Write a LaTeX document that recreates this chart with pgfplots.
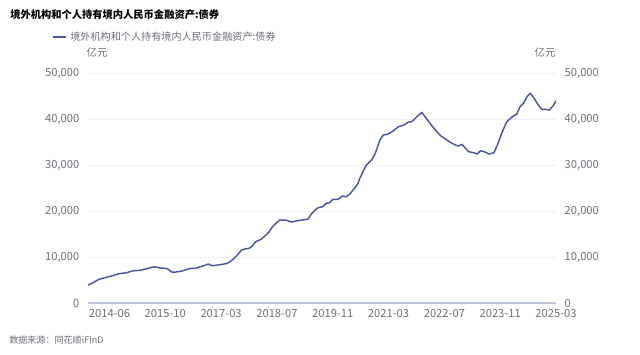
\documentclass[border=0pt]{standalone}
\usepackage{fontspec}
\setmainfont{Noto Sans CJK SC}
\usepackage{pgfplots}
\pgfplotsset{compat=1.18}
\definecolor{linec}{RGB}{74,86,158}
\definecolor{txt}{RGB}{110,112,121}
\definecolor{gridc}{RGB}{236,238,245}
\definecolor{axisc}{RGB}{190,196,222}
\pgfplotsset{
  base/.style={
    at={(66pt,38pt)}, anchor=south west, scale only axis,
    width=351pt, height=172.5pt,
    xmin=0, xmax=135, ymin=0, ymax=50000,
    ytick={0,10000,20000,30000,40000,50000},
    scaled y ticks=false,
    major tick length=0pt,
    tick label style={text=txt, font=\fontsize{8.4}{10}\selectfont},
    /pgf/number format/.cd, 1000 sep={,}, assume math mode=true,
  }
}
\begin{document}
\begin{tikzpicture}[x=0.75pt,y=0.75pt]
\path[fill=white] (0,0) rectangle (640,354);
\node[anchor=west,inner sep=0pt,font=\fontsize{7.7}{10}\selectfont\bfseries] at (10,339) {境外机构和个人持有境内人民币金融资产:债券};
\draw[linec, line width=1.1pt] (53,317) -- (66,317);
\node[anchor=west, inner sep=0pt, text=txt, font=\fontsize{7.6}{10}\selectfont] at (70,317) {境外机构和个人持有境内人民币金融资产:债券};
\node[text=txt, inner sep=0pt, font=\fontsize{7.8}{10}\selectfont] at (97,301) {亿元};
\node[text=txt, inner sep=0pt, font=\fontsize{7.8}{10}\selectfont] at (545,301) {亿元};
\node[anchor=west, inner sep=0pt, text=txt, font=\fontsize{6.8}{10}\selectfont] at (9,14) {数据来源：同花顺iFinD};

\begin{axis}[base,
  axis x line=bottom, axis y line=left,
  x axis line style={axisc, line width=1.4pt, -},
  y axis line style={draw=none},
  ymajorgrids, grid style={gridc, line width=0.6pt},
  xtick={6.2,22.3,38.4,54.5,70.6,86.7,102.8,118.9,135},
  xticklabels={2014-06,2015-10,2017-03,2018-07,2019-11,2021-03,2022-07,2023-11,2025-03},
  xticklabel style={yshift=-1pt},
  yticklabel style={xshift=-3pt},
]
\addplot[linec, line width=1.1pt, line join=round] coordinates {
(0,3980)(1.45,4480)(3.1,5200)(4.85,5570)(6.77,5930)(8.9,6440)(11.1,6660)(13.1,7090)
(15.0,7170)(16.9,7520)(19.2,7960)(20.8,7670)(22.7,7600)(24.2,6800)(25.2,6790)(27.1,7020)
(29.5,7600)(31.0,7600)(32.4,7960)(34.8,8540)(35.8,8170)(37.3,8300)(39.2,8540)(40.2,8690)
(41.6,9410)(43.1,10500)(44.3,11590)(45.5,11870)(46.5,11940)(47.4,12460)(48.4,13400)
(49.9,13900)(50.8,14480)(52.3,15570)(53.2,16650)(54.2,17390)(55.2,18100)(57.1,18100)
(58.6,17670)(60.0,17900)(61.5,18100)(63.4,18260)(64.4,19410)(65.3,20130)(66.3,20780)
(67.7,21000)(68.7,21740)(69.7,21880)(70.6,22600)(72.1,22600)(73.4,23330)(74.5,23180)
(75.5,23760)(76.9,25000)(77.9,26090)(78.4,27170)(80.3,30070)(81.8,31150)(82.8,32460)
(84.2,35500)(85.2,36590)(86.6,36800)(88.1,37520)(89.5,38390)(91.0,38700)(92.4,39410)
(93.4,39480)(94.9,40570)(96.3,41520)(97.8,40000)(99.2,38600)(100.2,37700)(101.6,36500)
(103.1,35720)(104.5,35000)(106.0,34410)(106.9,34200)(107.9,34570)(108.9,33700)(109.8,32960)
(111.3,32740)(112.3,32460)(113.2,33170)(114.2,33000)(115.7,32460)(117.1,32740)(118.1,34410)
(119.5,37300)(120.8,39480)(122.4,40570)(123.7,41150)(124.6,42740)(125.6,43480)(126.6,44910)
(127.6,45650)(128.7,44560)(129.7,43330)(130.9,42170)(132.1,42170)(133.1,42020)(134.1,42890)
(135,44040)
};
\end{axis}
\begin{axis}[base,
  hide x axis,
  axis y line=right,
  y axis line style={draw=none},
  yticklabel style={xshift=3pt},
]
\addplot[draw=none] coordinates {(0,0)(135,0)};
\end{axis}
\end{tikzpicture}
\end{document}
